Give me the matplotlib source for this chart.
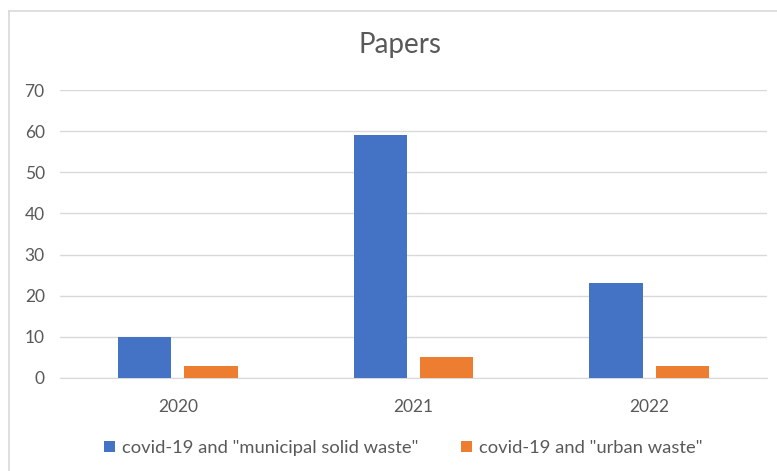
import matplotlib.pyplot as plt
import numpy as np
from matplotlib.lines import Line2D

years = ['2020', '2021', '2022']
msw_papers = [10, 59, 23]
urban_papers = [3, 5, 3]
series_names = ['covid-19 and "municipal solid waste"', 'covid-19 and "urban waste"']

text_color = '#595959'
grid_color = '#D9D9D9'
plt.rcParams['font.family'] = ['Lato', 'DejaVu Sans']

W, H = 777, 471
fig = plt.figure(figsize=(W/100, H/100), dpi=100)
ax = fig.add_axes([60/W, 1 - 378/H, 707/W, 288/H])

# chart frame (only the left and top edges fall inside the image)
fig.lines.append(Line2D([8.5/W, 8.5/W], [0, 1 - 11/H], transform=fig.transFigure,
                        color=grid_color, lw=1.2))
fig.lines.append(Line2D([8.5/W, 1], [1 - 11/H, 1 - 11/H], transform=fig.transFigure,
                        color=grid_color, lw=1.2))

x = np.arange(len(years))
w = 0.226
gap = 0.056
ax.bar(x - w/2 - gap/2, msw_papers, w, color='#4472C4', label=series_names[0], zorder=3)
ax.bar(x + w/2 + gap/2, urban_papers, w, color='#ED7D31', label=series_names[1], zorder=3)

ax.set_xlim(-0.5, 2.5)
ax.set_ylim(0, 70)
ax.set_yticks(range(0, 71, 10))
ax.set_xticks(x)
ax.set_xticklabels(years)
ax.tick_params(axis='both', length=0, labelsize=12.5, colors=text_color)
ax.tick_params(axis='y', pad=11)
ax.tick_params(axis='x', pad=15)
ax.grid(axis='y', color=grid_color, lw=1, zorder=0)
for s in ['top', 'right', 'left']:
    ax.spines[s].set_visible(False)
ax.spines['bottom'].set_color(grid_color)

fig.text(400/W, 1 - 45/H, 'Papers', ha='center', va='center', fontsize=20, color=text_color)

leg = fig.legend(loc='center', bbox_to_anchor=(403/W, 1 - 448/H), ncol=2, frameon=False,
                 fontsize=13.2, handlelength=0.6, handleheight=0.6, handletextpad=0.4,
                 columnspacing=2.3, labelcolor=text_color)

fig.savefig('out.png', dpi=100)
